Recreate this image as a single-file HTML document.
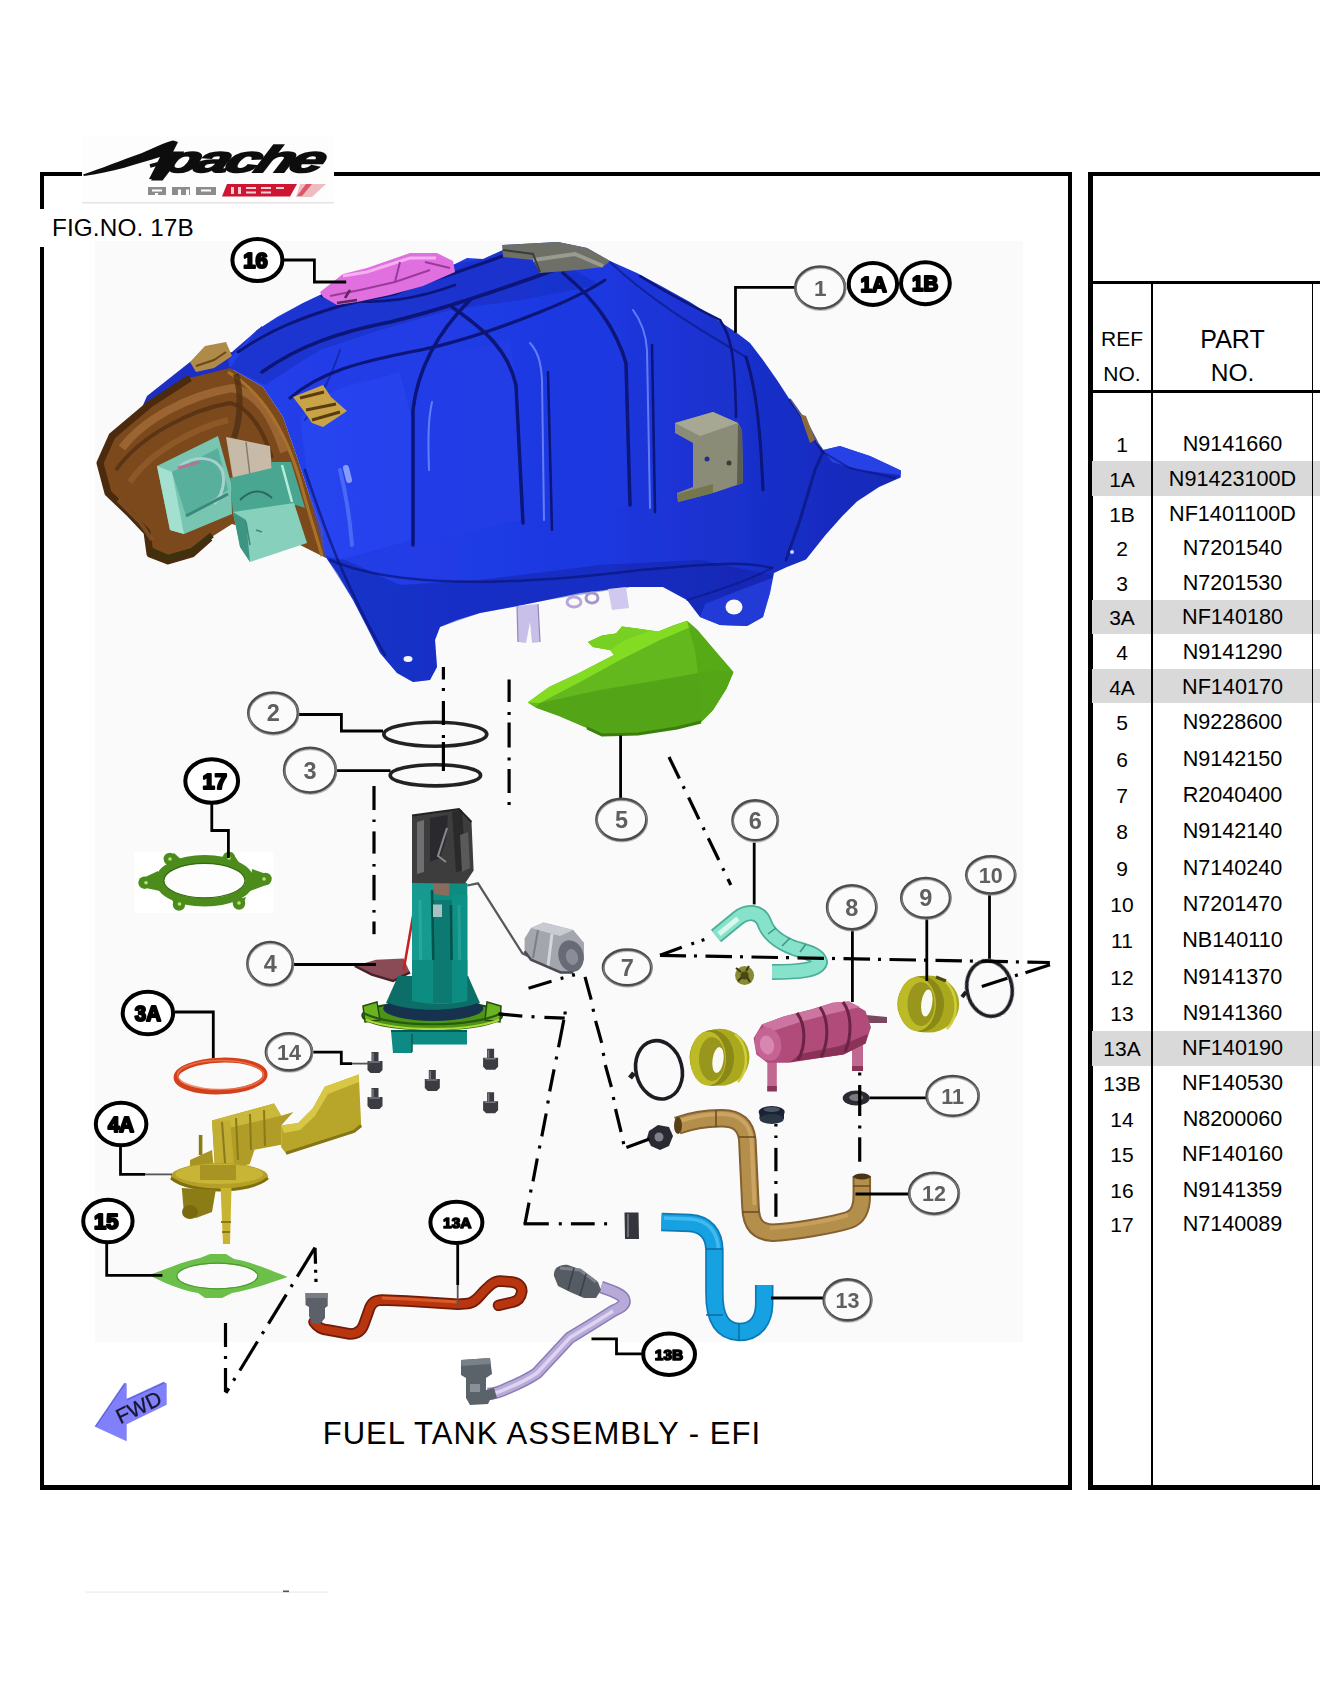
<!DOCTYPE html>
<html><head><meta charset="utf-8">
<style>
html,body{margin:0;padding:0;background:#fff;}
body{width:1320px;height:1700px;position:relative;overflow:hidden;font-family:"Liberation Sans",sans-serif;color:#000;}
.abs{position:absolute;}
.blk{position:absolute;background:#000;}
.row{position:absolute;left:1092px;width:228px;height:35px;}
.row.sh{background:#d9d9d9;}
.ref{position:absolute;left:1092px;width:60px;text-align:center;font-size:21px;line-height:24px;white-space:nowrap;}
.pn{position:absolute;left:1153px;width:159px;text-align:center;font-size:21.6px;margin-top:1px;line-height:24px;white-space:nowrap;}
svg{position:absolute;left:0;top:0;}
</style></head><body>
<!-- frames -->
<div class="blk" style="left:40px;top:172px;width:1032px;height:4px"></div>
<div class="blk" style="left:40px;top:1485px;width:1032px;height:5px"></div>
<div class="blk" style="left:40px;top:172px;width:3.5px;height:1318px"></div>
<div class="blk" style="left:1068px;top:172px;width:4px;height:1318px"></div>
<div class="abs" style="left:38px;top:209px;width:170px;height:38px;background:#fff"></div>
<div class="abs" id="fig" style="left:52px;top:215.3px;letter-spacing:0.12px;font-size:24.3px;line-height:26px;white-space:nowrap">FIG.NO. 17B</div>
<!-- table -->
<div class="blk" style="left:1088px;top:172px;width:232px;height:4px"></div>
<div class="blk" style="left:1088px;top:1485px;width:232px;height:5px"></div>
<div class="blk" style="left:1088px;top:172px;width:4.5px;height:1318px"></div>
<div class="blk" style="left:1092px;top:281px;width:228px;height:3px"></div>
<div class="blk" style="left:1092px;top:390px;width:228px;height:3px"></div>
<div id="rows">
<div class="row sh" style="top:461.0px;height:34.5px"></div>
<div class="row sh" style="top:599.5px;height:34.5px"></div>
<div class="row sh" style="top:668.7px;height:34.6px"></div>
<div class="row sh" style="top:1031.0px;height:34.5px"></div>
</div>
<div class="blk" style="left:1151px;top:284px;width:1.6px;height:1202px"></div>
<div class="blk" style="left:1311.5px;top:284px;width:1.6px;height:1202px"></div>
<div class="ref" style="top:327px;font-size:21px">REF</div>
<div class="ref" style="top:362px;font-size:21px">NO.</div>
<div class="pn" style="top:324px;font-size:25px;line-height:28px">PART</div>
<div class="pn" style="top:358px;font-size:24.5px;line-height:28px">NO.</div>
<div class="ref" style="top:433px">1</div><div class="pn" style="top:431px">N9141660</div>
<div class="ref" style="top:468px">1A</div><div class="pn" style="top:466px">N91423100D</div>
<div class="ref" style="top:503px">1B</div><div class="pn" style="top:501px">NF1401100D</div>
<div class="ref" style="top:537px">2</div><div class="pn" style="top:535px">N7201540</div>
<div class="ref" style="top:572px">3</div><div class="pn" style="top:570px">N7201530</div>
<div class="ref" style="top:606px">3A</div><div class="pn" style="top:604px">NF140180</div>
<div class="ref" style="top:641px">4</div><div class="pn" style="top:639px">N9141290</div>
<div class="ref" style="top:676px">4A</div><div class="pn" style="top:674px">NF140170</div>
<div class="ref" style="top:711px">5</div><div class="pn" style="top:709px">N9228600</div>
<div class="ref" style="top:748px">6</div><div class="pn" style="top:746px">N9142150</div>
<div class="ref" style="top:784px">7</div><div class="pn" style="top:782px">R2040400</div>
<div class="ref" style="top:820px">8</div><div class="pn" style="top:818px">N9142140</div>
<div class="ref" style="top:857px">9</div><div class="pn" style="top:855px">N7140240</div>
<div class="ref" style="top:893px">10</div><div class="pn" style="top:891px">N7201470</div>
<div class="ref" style="top:929px">11</div><div class="pn" style="top:927px">NB140110</div>
<div class="ref" style="top:966px">12</div><div class="pn" style="top:964px">N9141370</div>
<div class="ref" style="top:1002px">13</div><div class="pn" style="top:1000px">N9141360</div>
<div class="ref" style="top:1037px">13A</div><div class="pn" style="top:1035px">NF140190</div>
<div class="ref" style="top:1072px">13B</div><div class="pn" style="top:1070px">NF140530</div>
<div class="ref" style="top:1108px">14</div><div class="pn" style="top:1106px">N8200060</div>
<div class="ref" style="top:1143px">15</div><div class="pn" style="top:1141px">NF140160</div>
<div class="ref" style="top:1179px">16</div><div class="pn" style="top:1177px">N9141359</div>
<div class="ref" style="top:1213px">17</div><div class="pn" style="top:1211px">N7140089</div>

<div class="abs" id="title" style="left:322.7px;top:1415.9px;font-size:31px;line-height:36px;letter-spacing:1.04px;white-space:nowrap">FUEL TANK ASSEMBLY - EFI</div>
<svg id="dg" width="1320" height="1700" viewBox="0 0 1320 1700">
<defs>
<filter id="b1" x="-5%" y="-5%" width="110%" height="110%"><feGaussianBlur stdDeviation="0.7"/></filter>
<filter id="b2" x="-5%" y="-5%" width="110%" height="110%"><feGaussianBlur stdDeviation="1.1"/></filter>
<filter id="b3" x="-5%" y="-5%" width="110%" height="110%"><feGaussianBlur stdDeviation="2"/></filter>
<filter id="b5" x="-10%" y="-10%" width="120%" height="120%"><feGaussianBlur stdDeviation="4"/></filter>
</defs>
<g font-family="Liberation Sans, sans-serif">
<!-- 00_bg.svg -->
<rect x="95" y="241" width="928" height="1101" fill="#fafafa"/>

<!-- 10_tank.svg -->
<linearGradient id="tg" gradientUnits="userSpaceOnUse" x1="230" y1="0" x2="900" y2="0"><stop offset="0" stop-color="#2340ea"/><stop offset=".55" stop-color="#1e38e0"/><stop offset=".75" stop-color="#1a30cc"/><stop offset="1" stop-color="#1629b8"/></linearGradient>
<g filter="url(#b1)">
<!-- blue rim over brown opening -->
<path d="M140,412 L147,396 L190,362 L232,352 L262,326 L262,345 L230,372 L190,380 L152,406 Z" fill="#1a2fc4"/>
<!-- tan bracket top-left -->
<path d="M190,362 L205,346 L226,342 L232,356 L214,368 L196,372 Z" fill="#b08a4a"/>
<path d="M196,366 L214,360 L226,352" stroke="#6a4a1a" stroke-width="2" fill="none"/>
<!-- brown inner -->
<path d="M230,368 L190,378 L150,404 L112,436 L100,463 L108,493 L130,514 L147,532 L150,554 L168,561 L192,554 L210,538 L232,524 L300,545 L326,558 L322,530 L310,497 L297,457 L283,417 L263,387 Z" fill="#7c4a1e"/>
<path d="M190,378 L150,404 L112,436 L100,463 L108,493 L130,514 L147,532 L150,554 L168,561 L192,554 L210,538" fill="none" stroke="#4c2c0e" stroke-width="7" stroke-linejoin="round"/>
<path d="M150,550 L168,558 L192,551 L212,535" fill="none" stroke="#3e300a" stroke-width="6"/>
<path d="M122,448 C145,418 188,396 232,388 C258,392 274,420 284,452" fill="none" stroke="#a06a34" stroke-width="8" opacity=".85"/>
<path d="M116,470 C140,436 190,410 230,403 C250,407 264,432 272,458" fill="none" stroke="#5c3412" stroke-width="4"/>
<path d="M130,482 C150,452 195,428 228,420" fill="none" stroke="#94602c" stroke-width="6" opacity=".7"/>
<path d="M228,372 C262,392 285,430 300,480 C308,510 316,535 322,556" fill="none" stroke="#a8722c" stroke-width="3"/>
<path d="M236,374 C242,396 240,420 234,438" fill="none" stroke="#50300f" stroke-width="6" opacity=".8"/>
<path d="M118,500 L140,522 L152,540" fill="none" stroke="#8c5a28" stroke-width="4" opacity=".7"/>
<!-- beige block -->
<path d="M226,437 L270,446 L272,470 L247,477 L233,479 Z" fill="#c8baa8"/>
<path d="M246,442 L250,476" stroke="#8a7a68" stroke-width="1.5"/>
<!-- teal interior -->
<path d="M271,462 L291,462 L305,508 L296,505 L233,513 L230,478 L272,468 Z" fill="#4aa690"/>
<path d="M157,466 L218,436 L231,483 L232,514 L184,534 L170,530 Z" fill="#78c6b2"/>
<path d="M157,466 L170,530 L184,534 L172,472 Z" fill="#a4e0d0"/>
<path d="M172,472 L218,448 L228,490 L186,516 Z" fill="#58b09c"/>
<path d="M180,466 C195,455 215,456 222,470 C226,482 222,496 214,504" fill="none" stroke="#a8d0d0" stroke-width="3"/>
<path d="M178,468 L200,462" stroke="#b07890" stroke-width="3"/>
<path d="M186,516 L228,494" stroke="#3a8a78" stroke-width="3"/>
<path d="M233,512 L294,503 L307,543 L250,562 L240,547 Z" fill="#86d0bc"/>
<path d="M233,512 L240,547 L250,562 L246,520 Z" fill="#3e9480"/>
<path d="M240,500 C250,490 262,488 272,498" fill="none" stroke="#2a6a5c" stroke-width="2"/>
<path d="M282,465 L292,502" stroke="#b4ecdc" stroke-width="2.5"/>
<path d="M246,522 L250,545 M256,530 l6,2" stroke="#3a8a78" stroke-width="1.5"/>
<!-- main blue body -->
<path id="tankbody" d="M230,368 L228,360 L257,330 L277,317 L303,303 L322,294 L345,300 L400,288 L455,264 L467,258 L483,259 L503,250 L503,245 L558,242 L587,248 L610,261 L637,273 L663,287 L690,302 L713,317 L737,333 L750,343 L763,360 L777,380 L790,400 L800,415 L807,424 L817,443 L823,450 L840,446 L870,456 L901,470.5 L900.6,477.5 L879,487 L857,501.5 L842.4,516 L825.5,535 L806,559.5 L787,567 L774,573 L770,593 L763,617 L747,626 L720,625 L700,617 L687,600 L663,587 L630,587 L580,593 L547,600 L513,607 L480,613 L457,620 L440,627 L435,640 L437,667 L430,680 L413,682 L397,673 L380,653 L367,627 L353,600 L337,573 L325,556 L322,530 L310,497 L297,457 L283,417 L263,387 Z" fill="url(#tg)"/>
<!-- shading regions -->
<path d="M325,556 L353,600 L380,653 L397,673 L413,682 L430,680 L437,667 L435,640 L440,627 L480,613 L547,600 L630,587 L663,587 L687,600 L700,617 L720,625 L747,626 L763,617 L772,575 L700,560 L600,565 L480,580 L400,585 L345,560 Z" fill="#0f1f98" opacity=".4"/>
<path d="M303,303 L322,294 L345,300 L400,288 L455,264 L483,259 L503,250 L560,262 L600,285 L520,300 L450,310 L380,330 L320,350 L265,385 L230,368 L257,330 Z" fill="#1226a6" opacity=".35"/>
<path d="M300,420 C310,400 340,385 372,380 L400,372 L412,420 L412,540 L340,560 L325,556 L310,497 Z" fill="#2a48f4" opacity=".55"/>
<path d="M420,360 L510,340 L520,400 L522,520 L418,545 L412,430 Z" fill="#2240ea" opacity=".5"/>
<path d="M535,340 L620,325 L628,370 L630,505 L545,525 L540,370 Z" fill="#1e3ae0" opacity=".5"/>
<path d="M823,450 L840,446 L870,456 L901,470.5 L900.6,475 L860,470 L832,462 Z" fill="#2c48f0" opacity=".8"/>
<path d="M700,617 L720,625 L747,626 L763,617 L770,593 L772,578 L740,590 L705,604 Z" fill="#2a46ec" opacity=".6"/>
<!-- top ridge lines -->
<g fill="none" stroke="#0a1678" stroke-linecap="round">
<path d="M238,352 C270,330 300,318 340,306 C400,292 450,275 503,256" stroke-width="3"/>
<path d="M262,372 C300,345 340,332 390,322 C440,310 500,290 560,268" stroke-width="3.5"/>
<path d="M290,398 C320,372 360,362 410,352 C450,345 500,328 540,312 C570,300 590,290 605,280" stroke-width="3"/>
<path d="M345,300 C380,305 420,298 455,285" stroke-width="2.5"/>
<path d="M322,296 L346,304 L395,294 L452,270" stroke-width="2.5"/>
<!-- ribs -->
<path d="M470,300 C440,330 418,365 413,410 L413,545" stroke-width="3.5"/>
<path d="M452,307 C485,330 508,350 516,385 L523,523" stroke-width="3.5"/>
<path d="M548,372 L552,530" stroke-width="2.5"/>
<path d="M563,273 C590,295 615,325 626,363 L630,505" stroke-width="3.5"/>
<path d="M652,345 L655,512" stroke-width="2.5"/>
<path d="M720,320 C730,335 735,350 736,417" stroke-width="2.5"/>
<path d="M746,357 C755,385 760,420 763,490" stroke-width="3"/>
<path d="M640,276 C670,295 700,310 720,320" stroke-width="2.5"/>
<path d="M610,262 C650,300 700,330 746,357" stroke-width="2" opacity=".6"/>
<path d="M330,560 C400,590 520,585 640,570 C700,565 740,560 772,568" stroke-width="2.5" opacity=".7"/>
<path d="M305,470 C315,500 325,530 340,565 C355,600 370,630 385,655" stroke-width="2.5" opacity=".7"/>
<path d="M790,400 L807,424 L817,443 L823,452 L815,470 L800,520 L786,560" stroke-width="3" opacity=".7"/>
<path d="M823,452 L850,468 L895,478" stroke-width="2" opacity=".6"/>
<path d="M687,600 C720,590 750,580 772,568" stroke-width="2" opacity=".5"/>
<path d="M340,350 C330,380 320,400 305,420" stroke-width="2" opacity=".5"/>
</g>
<!-- highlights -->
<g fill="none" stroke="#7a94ff" stroke-linecap="round" opacity=".75">
<path d="M530,343 C538,352 541,362 542,380 L544,520" stroke-width="2"/>
<path d="M633,310 C642,322 646,335 647,350 L650,508" stroke-width="2"/>
<path d="M432,402 C428,420 428,440 429,470" stroke-width="2"/>
<path d="M340,470 C345,490 350,520 352,545" stroke-width="4" opacity=".6"/>
<path d="M346,468 L349,480" stroke-width="6" stroke="#a8b8ff"/>
</g>
<!-- tan hinge on front -->
<path d="M293,397 L323,385 L331,397 L347,411 L323,427 L312,423 L303,410 Z" fill="#c8a446"/>
<path d="M300,398 L324,392 M306,410 L336,404 M312,420 L340,412" stroke="#5a3a10" stroke-width="3" fill="none"/>
<!-- grey bracket on top -->
<path d="M502,245 L558,242 L587,248 L610,261 L603,267 L577,270 L540,273 L533,260 L503,257 Z" fill="#6e7068"/>
<path d="M533,260 L575,254 L603,266" stroke="#9a9a8e" stroke-width="4" fill="none"/>
<path d="M503,250 L533,254 L540,272" stroke="#3a3c3a" stroke-width="2" fill="none"/>
<!-- grey bracket on side -->
<path d="M675,423 L713,412 L738,423 L742,430 L743,483 L713,493 L678,502 L677,493 L693,487 L693,443 L675,433 Z" fill="#8a8c78"/>
<path d="M675,423 L713,412 L738,423 L700,436 Z" fill="#a6a894"/>
<path d="M677,494 L713,484 L713,493 L678,502 Z" fill="#74764e"/>
<path d="M738,424 L742,430 L743,483 L737,485 Z" fill="#5c5e50"/>
<circle cx="707" cy="459" r="2.5" fill="#2a2c8a"/><circle cx="729" cy="463" r="2.5" fill="#3a3a3a"/>
<!-- small tan on right edge -->
<path d="M800,414 L806,416 L815,440 L810,443 Z" fill="#8a6a3a"/>
<!-- pink cap -->
<path d="M320,292 L343,274 L367,268 L410,253 L437,253 L453,261 L455,272 L423,286 L390,295 L357,302 L337,305 L323,297 Z" fill="#e070e0"/>
<path d="M343,276 L367,272 L410,258 L436,258" stroke="#f4b0f0" stroke-width="3" fill="none"/>
<path d="M330,296 L360,290 L395,282 L430,270 M395,282 L400,262 M425,262 L450,268" stroke="#9a3a9a" stroke-width="2" fill="none"/>
<path d="M337,303 L357,300 M345,298 L350,290" stroke="#5a2a5a" stroke-width="2.5" fill="none"/>
<!-- holes -->
<ellipse cx="408" cy="659" rx="4.5" ry="3" fill="#f4f4ff"/>
<ellipse cx="734" cy="607" rx="8.5" ry="7.5" fill="#fafafa"/>
<circle cx="792" cy="552" r="2" fill="#c8d0ff"/>
<!-- lavender pins -->
<path d="M517,606 L538,604 L540,642 L532,643 L530,622 L526,643 L518,642 Z" fill="#c8c0e8"/>
<path d="M608,589 L626,587 L629,608 L612,610 Z" fill="#d0c8ee"/>
<ellipse cx="574" cy="602" rx="7" ry="5" fill="none" stroke="#b8a8d8" stroke-width="3"/>
<ellipse cx="592" cy="598" rx="6" ry="5" fill="none" stroke="#a898c8" stroke-width="3"/>
<path d="M517,606 L518,642 M538,604 L540,642" stroke="#9088b8" stroke-width="1.2"/>
</g>

<!-- 20_cover.svg -->
<g filter="url(#b1)">
<path d="M527.6,702.4 L549,687 L579,673 L602,661 L614,655 L610,650 L593,647 L588,642 L602,635.5 L616,633.5 L622,626.6 L638,628.6 L658,631.5 L673,625.6 L687,620.7 L697,629.5 L717,653 L733.4,672 L726.5,688.6 L713,710 L701,722 L677,728 L638,734 L602,735 L587,728 L559,716 L535.5,707.4 Z" fill="#62b81a"/>
<path d="M527.6,702.4 L549,687 L579,673 L614,655 L610,650 L593,647 L588,642 L602,635.5 L616,633.5 L622,626.6 L658,631.5 L687,620.7 L693,626 L660,640 L620,660 L580,682 L540,703 Z" fill="#84dc24"/>
<path d="M540,703 L600,690 L660,680 L715,670 L733.4,672 L726.5,688.6 L713,710 L701,722 L677,728 L638,734 L602,735 L587,728 L559,716 L535.5,707.4 Z" fill="#52a416"/>
<path d="M687,620.7 L697,629.5 L733.4,672 L726.5,688.6 L713,710 L701,722 L700,690 L695,650 Z" fill="#55a616" opacity=".8"/>
<path d="M588,642 L602,635.5 L616,633.5 L622,626.6 L650,631 L625,640 L610,650 L593,647 Z" fill="#78d020"/>
<path d="M587,728 L602,735 L638,734 L677,728 L701,722" fill="none" stroke="#3a7e0c" stroke-width="3"/>
</g>

<!-- 30_pump.svg -->
<g filter="url(#b1)">
<!-- O-rings -->
<ellipse cx="435.3" cy="734.2" rx="51.5" ry="12" fill="none" stroke="#222" stroke-width="3.6"/>
<ellipse cx="435.4" cy="775.3" rx="45.2" ry="10.6" fill="none" stroke="#222" stroke-width="3.6"/>
<!-- plate 4 and red line -->
<path d="M354.8,966 L376,959.7 L403.6,958.6 L410,972.4 L393,981 L371.8,974.6 Z" fill="#8a4c56"/>
<path d="M354.8,966 L371.8,974.6 L393,981 L410,972.4" fill="none" stroke="#4a2028" stroke-width="2.5"/>
<path d="M413.2,915 L403.6,970.3" stroke="#c42020" stroke-width="2.5" fill="none"/>
<!-- base cone -->
<path d="M398,976 L386,1003 L480,1003 L468,976 Z" fill="#0a6e68"/>
<!-- teal body -->
<path d="M412,883 L467.3,883 L467.3,1000 L412,1000 Z" fill="#0c8c82"/>
<path d="M412,883 L433,883 L433,1000 L412,1000 Z" fill="#129a90"/>
<path d="M433,900 L452,900 L452,1000 L433,1000 Z" fill="#087a72"/>
<path d="M452,895 L467.3,895 L467.3,1000 L452,1000 Z" fill="#0e9086"/>
<path d="M432,890 L434,1000 M451,905 L452,1000" stroke="#04524c" stroke-width="2.5" fill="none"/>
<path d="M420,900 L421,990" stroke="#38b0a6" stroke-width="3" opacity=".6"/>
<path d="M459,905 L460,990" stroke="#30a8a0" stroke-width="3" opacity=".6"/>
<rect x="433" y="904.5" width="9" height="12.5" fill="#a8c0c0"/>
<path d="M431,872 L450,872 L449,896 L434,894 Z" fill="#8a6c5c"/>
<!-- dark top block -->
<path d="M412,815.5 L459,809 L471.5,822 L473.6,870.6 L465,883.5 L412,883 Z" fill="#3c3c3e"/>
<path d="M417,822 L424,820 L424,872 L417,874 Z" fill="#6e6e70"/>
<path d="M452,812 L462,810 L466,870 L456,872 Z" fill="#2a2a2c"/>
<path d="M430,818 L448,815 L446,840 L440,858 L430,862 Z" fill="#2c2c2e"/>
<path d="M447,828 L438,856 L446,862" stroke="#8a8a8c" stroke-width="2" fill="none"/>
<path d="M460,835 L468,832 L470,868 L462,872 Z" fill="#5a5a5c"/>
<path d="M412,815.5 L459,809 L471.5,822" stroke="#222" stroke-width="2" fill="none"/>
<!-- green flange -->
<ellipse cx="432.3" cy="1015.5" rx="70" ry="14" fill="#4c9416" stroke="#244c0c" stroke-width="2"/>
<path d="M363,1006 L377,1002 L380,1020 L365,1022 Z M487,1002 L501,1006 L500,1022 L485,1020 Z" fill="#6ab422" stroke="#244c0c" stroke-width="1.5"/>
<path d="M366,1020 C400,1032 466,1032 499,1020" fill="none" stroke="#a8dc34" stroke-width="2"/>
<path d="M363,1013 C395,1028 470,1028 502,1013" fill="none" stroke="#2c5a10" stroke-width="2"/>
<!-- navy disc -->
<ellipse cx="433.3" cy="1008.5" rx="50" ry="12.5" fill="#143250"/>
<path d="M398,976 L388,1003 C410,1012 455,1012 478,1003 L468,976 Z" fill="#0a6e68"/>
<path d="M412,960 L467.3,960 L467.3,1001 C450,1005 430,1005 412,1001 Z" fill="#0c8c82"/>
<path d="M433,960 L452,960 L452,1003 L433,1003 Z" fill="#087a72"/>
<!-- below flange -->
<path d="M391,1031 L467,1031 L467,1044.6 L412,1044.6 L412,1053 L393,1053 Z" fill="#0c8a84"/>
<path d="M391,1031 L467,1031" stroke="#065a56" stroke-width="2"/>
<path d="M412,1034 L412,1052" stroke="#065a56" stroke-width="1.5"/>
<!-- float arm -->
<path d="M467.3,885.5 L478,883.3 L522.4,953.3 L531,957.6" fill="none" stroke="#58585c" stroke-width="2.2"/>
<!-- float -->
<path d="M524.6,938.5 L531,928 L543.6,922.6 L573.3,930 L584,942.7 L584,959.7 L573.3,972.4 L560.6,972.4 L531,959.7 L524.6,951.2 Z" fill="#a4a6ae"/>
<path d="M531,928 L543.6,922.6 L573.3,930 L560,936 Z" fill="#c8ccd2"/>
<ellipse cx="571" cy="956" rx="12.5" ry="16" transform="rotate(-15 571 956)" fill="#686a74"/>
<ellipse cx="572" cy="957" rx="6" ry="8" transform="rotate(-15 572 957)" fill="#8a8c96"/>
<path d="M552,934 L548,966" stroke="#e0e4e8" stroke-width="3" opacity=".8"/>
<path d="M538,930 L533,958" stroke="#7c7e88" stroke-width="2"/>
<path d="M524.6,951.2 L531,959.7 L560.6,972.4 L573.3,972.4" stroke="#4a4c54" stroke-width="2.5" fill="none"/>
<!-- bolts -->
<g><path d="M371.5,1052 h7 v9 h4 v9 l-3,3 h-9 l-3,-3 v-9 h4 Z" fill="#3a3a42"/><path d="M373,1053 v8 M369,1062 h11" stroke="#7a7a84" stroke-width="1.5"/></g><g transform="translate(0,36)"><path d="M371.5,1052 h7 v9 h4 v9 l-3,3 h-9 l-3,-3 v-9 h4 Z" fill="#3a3a42"/><path d="M373,1053 v8 M369,1062 h11" stroke="#7a7a84" stroke-width="1.5"/></g><g transform="translate(57.3,18)"><path d="M371.5,1052 h7 v9 h4 v9 l-3,3 h-9 l-3,-3 v-9 h4 Z" fill="#3a3a42"/><path d="M373,1053 v8 M369,1062 h11" stroke="#7a7a84" stroke-width="1.5"/></g><g transform="translate(115.6,-3.2)"><path d="M371.5,1052 h7 v9 h4 v9 l-3,3 h-9 l-3,-3 v-9 h4 Z" fill="#3a3a42"/><path d="M373,1053 v8 M369,1062 h11" stroke="#7a7a84" stroke-width="1.5"/></g><g transform="translate(115.6,40.3)"><path d="M371.5,1052 h7 v9 h4 v9 l-3,3 h-9 l-3,-3 v-9 h4 Z" fill="#3a3a42"/><path d="M373,1053 v8 M369,1062 h11" stroke="#7a7a84" stroke-width="1.5"/></g>
</g>

<!-- 40_left.svg -->
<rect x="134.5" y="851.6" width="138.7" height="61.4" fill="#fff"/>
<g filter="url(#b1)">
<!-- gasket 17 -->
<g fill="#4c8c1a">
<circle cx="169.8" cy="859" r="6.2"/><circle cx="228.9" cy="858" r="6.2"/><circle cx="265.5" cy="879" r="6.2"/><circle cx="239" cy="903.5" r="6.2"/><circle cx="179" cy="904.5" r="6.2"/><circle cx="144.5" cy="882.7" r="6.2"/>
<path d="M158,871 L141,879 L141,887 L160,891 Z M252,869 L269,875 L269,884 L250,891 Z M164,862 L174,853 L184,862 Z M222,861 L232,852 L240,864 Z M172,899 L176,910 L186,903 Z M232,902 L242,909 L246,897 Z"/>
</g>
<ellipse cx="204.7" cy="880.8" rx="45" ry="21.5" fill="#fdfdfd" stroke="#4c8c1a" stroke-width="8.5"/>
<ellipse cx="204.4" cy="880.6" rx="40.6" ry="17.2" fill="none" stroke="#356a10" stroke-width="1.2"/>
<g fill="#b8e080"><circle cx="170" cy="859" r="1.8"/><circle cx="229" cy="858" r="1.8"/><circle cx="264" cy="879" r="1.8"/><circle cx="239" cy="903" r="1.8"/><circle cx="179.5" cy="904" r="1.8"/><circle cx="146" cy="882.7" r="1.8"/></g>
<!-- 3A ring -->
<ellipse cx="220.6" cy="1076" rx="44.5" ry="15.8" fill="none" stroke="#d4401c" stroke-width="5" transform="rotate(-2 220.6 1076)"/>
<ellipse cx="220.6" cy="1075" rx="43" ry="14.5" fill="none" stroke="#ec7a50" stroke-width="1.5" opacity=".8"/>
<!-- 4A pump -->
<path d="M281.2,1125.5 L298.2,1123 L312.7,1108.5 L324.8,1086.7 L358.8,1074.5 L361.2,1125.5 L354,1131.5 L286,1153.3 L281.2,1147.3 Z" fill="#b8a62a"/>
<path d="M324.8,1086.7 L358.8,1074.5 L359,1082 L328,1094 L315,1116 L300,1130 L284,1133 L281.2,1125.5 L298.2,1123 L312.7,1108.5 Z" fill="#d8c644"/>
<path d="M286,1153.3 L354,1131.5 L361.2,1125.5" fill="none" stroke="#857416" stroke-width="3"/>
<path d="M212,1120.6 L274,1103.6 L281.2,1115.8 L293.3,1112 L281.2,1125.5 L281.2,1144.8 L254.5,1149.7 L249.7,1164.2 L215,1172 Z" fill="#b09c26"/>
<path d="M212,1120.6 L274,1103.6 L281.2,1115.8 L220,1130 Z" fill="#cab83a"/>
<path d="M236,1118 L238,1160 M250,1114 L251,1150 M264,1110 L265,1146" stroke="#8a7a1a" stroke-width="2" fill="none"/>
<path d="M212,1120.6 L230.3,1120.6 L235,1176 L215.8,1176 Z" fill="#c2ae30"/>
<path d="M222,1122 L226,1176" stroke="#8a7a1a" stroke-width="2"/>
<rect x="198.8" y="1135" width="3.6" height="20" fill="#8a7a1a"/>
<path d="M190,1160 L212,1150 L214,1170 L190,1172 Z" fill="#a89422"/>
<ellipse cx="219.4" cy="1176.4" rx="48.5" ry="13.3" fill="#b4a028"/>
<ellipse cx="219.4" cy="1174" rx="44" ry="10" fill="#c8b436"/>
<path d="M171,1178 C190,1194 250,1194 268,1178" fill="none" stroke="#80700f" stroke-width="3"/>
<path d="M200,1165 L236,1165 L236,1180 L200,1180 Z" fill="#a89422"/>
<path d="M181.8,1188 L215.8,1190 L212,1212 L196,1218 L184,1214 Z" fill="#8c7c18"/>
<ellipse cx="190" cy="1212" rx="8" ry="7" fill="#7a6a10"/>
<path d="M220.6,1188 L231.5,1188 L230,1244 L223,1244 Z" fill="#c8b430"/>
<path d="M221,1222 h10 M222,1232 h8" stroke="#8a7a1a" stroke-width="2"/>
<!-- 15 gasket -->
<path d="M149,1275 C165,1270 180,1262 200,1258 L210,1254 L226,1254 L234,1259 C252,1262 270,1270 287.7,1277 C270,1283 250,1290 232,1293 L222,1298 L205,1298 L198,1293 C180,1290 162,1282 149,1275 Z" fill="#6cc04a"/>
<ellipse cx="217.3" cy="1276" rx="40" ry="12.2" fill="#fafafa"/>
<ellipse cx="217.3" cy="1276" rx="40.5" ry="12.8" fill="none" stroke="#4c9a30" stroke-width="1.2"/>
</g>

<!-- 50_right.svg -->
<g filter="url(#b1)">
<!-- hose 6 mint -->
<path d="M716,936 L738,918 C748,910 760,912 764,922 C768,934 778,942 794,948 C806,952 818,954 820,962 C818,970 800,972 772,972" fill="none" stroke="#4cae98" stroke-width="16" stroke-linejoin="round"/>
<path d="M716,936 L738,918 C748,910 760,912 764,922 C768,934 778,942 794,948 C806,952 818,954 820,962 C818,970 800,972 772,972" fill="none" stroke="#86e2ca" stroke-width="12.5" stroke-linejoin="round"/>
<path d="M719,934 L738,918.5" stroke="#d8f8ee" stroke-width="5"/>
<path d="M768,934 L776,928 M782,946 L790,938 M800,952 L806,944" stroke="#3a9480" stroke-width="1.5"/>
<!-- clip 7 -->
<circle cx="744.6" cy="975.5" r="9.5" fill="#8a8a34"/>
<circle cx="744.6" cy="975.5" r="4" fill="#4a4a18"/>
<path d="M736,968 l5,4 m8,-6 l-3,5 m-8,10 l4,-4 m8,5 l-3,-5" stroke="#3a3a10" stroke-width="2"/>
<!-- ring 10 left (black) -->
<ellipse cx="659" cy="1069.8" rx="23" ry="29.5" fill="none" stroke="#1c1c22" stroke-width="3.6" transform="rotate(-14 659 1069.8)"/>
<path d="M634,1073 l-4,5" stroke="#1c1c22" stroke-width="5"/>
<!-- ring 9 left (yellow) -->
<ellipse cx="719.5" cy="1057.3" rx="30" ry="28.5" fill="#aaa81c"/>
<ellipse cx="712" cy="1058" rx="22" ry="28" fill="#8a8812"/>
<ellipse cx="708" cy="1058.5" rx="18" ry="27" fill="#bcba28"/>
<ellipse cx="712" cy="1059" rx="13" ry="22" fill="#98961a"/>
<ellipse cx="718" cy="1060" rx="5.5" ry="13" fill="#fafaf4" transform="rotate(8 718 1060)"/>
<path d="M735,1034 C748,1045 750,1068 738,1082" fill="none" stroke="#d0ce40" stroke-width="2.5"/>
<!-- canister 8 -->
<rect x="767.3" y="1058" width="9.5" height="33" fill="#c06890"/>
<rect x="767.3" y="1086" width="9.5" height="5.5" fill="#8a3458"/>
<rect x="852" y="1045" width="11" height="26" fill="#c06890"/>
<rect x="852" y="1066" width="11" height="5" fill="#8a3458"/>
<path d="M866,1015 L887,1017 L887,1023 L868,1023 Z" fill="#7a4a60"/>
<path d="M753.6,1038.2 L761.8,1024.5 L783.6,1016.4 L811,1009.5 L832.7,1002.7 L849,1001.4 L865.5,1011 L871,1027.3 L865.5,1043.6 L843.6,1054.5 L816.4,1058.6 L789,1062.7 L767.3,1062.7 L756.4,1054.5 Z" fill="#b04c7a"/>
<path d="M761.8,1024.5 L783.6,1016.4 L811,1009.5 L832.7,1002.7 L849,1001.4 L860,1007 L830,1014 L800,1022 L770,1032 Z" fill="#cc74a0"/>
<path d="M790,1062 L843.6,1054.5 L865.5,1043.6 L868,1034 L840,1046 L800,1054 Z" fill="#8a3058"/>
<ellipse cx="768" cy="1044" rx="13" ry="17" fill="#c46494" transform="rotate(-14 768 1044)"/>
<ellipse cx="767" cy="1045" rx="7" ry="9.5" fill="#d888b0" transform="rotate(-14 767 1045)"/>
<g fill="none" stroke="#6a2444" stroke-width="3"><path d="M797,1013 C806,1025 806,1046 798,1060"/><path d="M820,1007 C829,1020 829,1042 821,1057"/><path d="M843,1002 C852,1014 852,1036 845,1052"/></g>
<!-- ring 9 right -->
<ellipse cx="928.2" cy="1004" rx="31" ry="28.6" fill="#aaa81c"/>
<ellipse cx="921" cy="1004" rx="23" ry="28" fill="#8a8812"/>
<ellipse cx="917" cy="1004" rx="19" ry="27" fill="#bcba28"/>
<ellipse cx="921" cy="1004" rx="13.5" ry="22" fill="#98961a"/>
<ellipse cx="926.8" cy="1003" rx="5.5" ry="13.6" fill="#fafaf4" transform="rotate(8 926.8 1003)"/>
<path d="M944,980 C958,992 960,1015 947,1029" fill="none" stroke="#d0ce40" stroke-width="2.5"/>
<path d="M936,977 l10,4" stroke="#4a4a10" stroke-width="3"/>
<!-- ring 10 right -->
<ellipse cx="989.5" cy="988.5" rx="22.5" ry="28" fill="none" stroke="#1c1c22" stroke-width="3.6" transform="rotate(-12 989.5 988.5)"/>
<path d="M966,992 l-4,5" stroke="#1c1c22" stroke-width="4"/>
<!-- part 11 -->
<ellipse cx="856.2" cy="1098" rx="13.5" ry="7.5" fill="#2c2c32"/>
<ellipse cx="856.2" cy="1097.5" rx="7" ry="3.5" fill="#7a7a80"/>
<!-- grommet -->
<ellipse cx="771.7" cy="1112" rx="13" ry="6" fill="#1a2434"/>
<rect x="759.5" y="1110" width="24.5" height="9" fill="#1a2434"/>
<ellipse cx="771.7" cy="1119" rx="12" ry="5" fill="#2a3444"/>
<ellipse cx="771.7" cy="1109.5" rx="8" ry="2.5" fill="#4a5464"/>
<!-- nut -->
<path d="M649,1131 l9,-6 l11,2 l4,9 l-4,10 l-9,4 l-9,-4 l-4,-8 Z" fill="#2a2a30"/>
<circle cx="659" cy="1137" r="4.5" fill="#80808a"/>
<!-- hose 12 tan -->
<path id="h12" d="M677.3,1125.6 C690,1121 705,1118 721.8,1118.2 C738,1118 746,1126 747.3,1140 L750.5,1207 C751,1225 758,1232 772.7,1232.7 C790,1232 830,1226 849,1220 C858,1217 862,1208 861.8,1194.5 L861.8,1176" fill="none" stroke="#846030" stroke-width="18.5"/>
<path d="M677.3,1125.6 C690,1121 705,1118 721.8,1118.2 C738,1118 746,1126 747.3,1140 L750.5,1207 C751,1225 758,1232 772.7,1232.7 C790,1232 830,1226 849,1220 C858,1217 862,1208 861.8,1194.5 L861.8,1176" fill="none" stroke="#b48e4c" stroke-width="14.5"/>
<path d="M680,1121 C692,1117 706,1114 722,1114 C740,1114 750,1124 751.5,1140 L754.5,1205" fill="none" stroke="#d0aa66" stroke-width="4" opacity=".8"/>
<path d="M770,1228 C790,1227 830,1221 848,1215" fill="none" stroke="#caa45e" stroke-width="4" opacity=".8"/>
<path d="M739,1137 h17 M742,1212 h17 M716,1110 v17 M853,1186 h17" stroke="#6a4a20" stroke-width="1.5"/>
<ellipse cx="678" cy="1125.6" rx="4" ry="8.5" fill="#5a4018"/>
<ellipse cx="861.8" cy="1176.5" rx="8.5" ry="3" fill="#4a3412"/>
<!-- connector small dark -->
<path d="M624.5,1212.6 L638.5,1212.6 L639,1239 L625,1239 Z" fill="#34363c"/>
<path d="M628,1214 v23" stroke="#6a6c74" stroke-width="2"/>
<!-- hose 13 blue -->
<path d="M661.4,1222 L690,1223 C706,1224 714,1234 714.4,1250 L714.4,1292 C714,1318 722,1331 739,1332 C756,1332 764,1320 764.2,1304 L764.2,1285" fill="none" stroke="#0c7ab8" stroke-width="18.5"/>
<path d="M661.4,1222 L690,1223 C706,1224 714,1234 714.4,1250 L714.4,1292 C714,1318 722,1331 739,1332 C756,1332 764,1320 764.2,1304 L764.2,1285" fill="none" stroke="#18a2e2" stroke-width="15"/>
<path d="M664,1218 L690,1219 C708,1220 718,1232 718.4,1250" fill="none" stroke="#4cc0f2" stroke-width="3.5" opacity=".8"/>
<path d="M706,1249 h17 M706,1315 h17 M739,1323 v18" stroke="#0a6aa4" stroke-width="1.4"/>
</g>

<!-- 60_bottom.svg -->
<g filter="url(#b1)">
<!-- red hose 13A -->
<path d="M314,1322 C318,1328 322,1329.5 328,1330 L350,1334 C358,1334 362,1330 364,1324 L369,1310 C371,1303 375,1300 382,1300 L407,1301 L458,1304.2 L468,1303.5 C474,1303 478,1298 483.6,1291.5 C490,1285 494,1281 500,1281 L512,1282 C519,1283 522,1287 521.8,1291.5 C521,1297 518,1301 513,1302 L498.5,1305.3" fill="none" stroke="#6e1c08" stroke-width="11.5" stroke-linejoin="round" stroke-linecap="round"/>
<path d="M314,1322 C318,1328 322,1329.5 328,1330 L350,1334 C358,1334 362,1330 364,1324 L369,1310 C371,1303 375,1300 382,1300 L407,1301 L458,1304.2 L468,1303.5 C474,1303 478,1298 483.6,1291.5 C490,1285 494,1281 500,1281 L512,1282 C519,1283 522,1287 521.8,1291.5 C521,1297 518,1301 513,1302 L498.5,1305.3" fill="none" stroke="#b83410" stroke-width="8" stroke-linejoin="round" stroke-linecap="round"/>
<path d="M382,1298 L407,1299 L458,1302" fill="none" stroke="#e0642a" stroke-width="3" opacity=".8"/>
<!-- grey connector 13A -->
<path d="M305.5,1293 L327.7,1293 L327.7,1306 L325,1308 L325,1318 L320,1324 L312,1323 L309,1316 L309,1307 L305.5,1305 Z" fill="#5c6068"/>
<path d="M305.5,1293 h22.2 v5 h-22.2 Z" fill="#787c84"/>
<!-- lavender hose 13B -->
<path d="M487.3,1394 C495,1394 502,1391 508,1388 C520,1383 530,1378 537,1373 L570,1337.6 L594,1323 L613,1311 C622,1307 626,1304 624,1299 C622,1295 616,1292 601,1287" fill="none" stroke="#8a7cb4" stroke-width="12.5" stroke-linejoin="round"/>
<path d="M487.3,1394 C495,1394 502,1391 508,1388 C520,1383 530,1378 537,1373 L570,1337.6 L594,1323 L613,1311 C622,1307 626,1304 624,1299 C622,1295 616,1292 601,1287" fill="none" stroke="#b8aad8" stroke-width="9.5" stroke-linejoin="round"/>
<path d="M487.3,1394 C495,1394 502,1391 508,1388 C520,1383 530,1378 537,1373 L570,1337.6 L594,1323 L613,1311" fill="none" stroke="#dcd4f0" stroke-width="3.5" stroke-linejoin="round"/>
<!-- top connector 13B -->
<path d="M554,1276 C553,1268 560,1264 568,1265 L582,1270 L598,1282 L601,1290 L596,1298 L584,1298 L570,1292 L558,1286 Z" fill="#565c64"/>
<path d="M560,1268 L580,1270 L596,1282" stroke="#7c828a" stroke-width="3" fill="none"/>
<path d="M574,1268 L568,1290 M586,1274 L580,1296" stroke="#3a4048" stroke-width="1.5"/>
<!-- lower connector 13B -->
<path d="M461,1360 L490,1358 L492,1374 L486,1378 L486,1390 L492,1396 L488,1404 L470,1405 L466,1398 L466,1378 L461,1375 Z" fill="#5a626a"/>
<path d="M461,1360 L490,1358 L490.5,1364 L461.5,1366 Z" fill="#7a8088"/>
<path d="M470,1384 h10 v8 h-10 Z" fill="#8a9098"/>
<path d="M486,1390 L494,1388 L497,1398 L490,1400 Z" fill="#5a626a"/>
</g>
<!-- FWD arrow -->
<g filter="url(#b1)">
<path d="M94.5,1426.4 L124.2,1382.8 L126.7,1383.6 L126.7,1398.8 L163.6,1381.8 L166.7,1383.6 L166.7,1404.8 L126.7,1424.2 L126.7,1441.2 Z" fill="#8080fa"/>
<path d="M96,1426 L124.5,1384.5" stroke="#5a5ad0" stroke-width="1"/>
<path d="M127,1400 L164,1383" stroke="#5a5ad0" stroke-width="1"/>
<text transform="translate(120.2,1424.2) rotate(-25.6)" font-size="21" fill="#15152a" stroke="#15152a" stroke-width=".3">FWD</text>
</g>

<rect x="85.5" y="1591.5" width="243" height="1.2" fill="#ececec"/><rect x="283" y="1590.5" width="6" height="1.6" fill="#555" filter="url(#b1)"/>

<!-- 70_logo.svg -->
<rect x="82" y="137" width="252" height="66.5" fill="#fdfdfd"/>
<rect x="82" y="202" width="252" height="1.5" fill="#e4e4e4"/>
<g filter="url(#b1)">
<path d="M83,174.5 C100,169 122,160 142,153 C156,147 166,142 173,140.5 L178,142 C173,152 166,167 158,180 L149,179 C154,170 158,161 160,157 C140,163 110,173 84,176 Z" fill="#0a0a0a"/>
<path d="M150,166 L172,160" stroke="#0a0a0a" stroke-width="3.5"/>
<text transform="translate(158,172) skewX(-24) scale(1.68,1)" font-size="37" font-weight="bold" font-style="italic" fill="#0a0a0a" stroke="#0a0a0a" stroke-width="1.8" letter-spacing="-2.5">pache</text>
<!-- RTR -->
<g fill="#8c8c8c"><rect x="148" y="187" width="18" height="8"/><rect x="172" y="187" width="18" height="8"/><rect x="196" y="187" width="20" height="8"/></g>
<g fill="#fdfdfd"><rect x="152" y="189.5" width="10" height="2"/><rect x="178" y="189.5" width="3" height="6"/><rect x="186" y="189.5" width="3" height="6"/><rect x="201" y="189.5" width="10" height="2"/><rect x="155" y="193" width="3" height="3"/></g>
<path d="M227,184 L297,184 L290,196.5 L222,196.5 Z" fill="#cc1830"/>
<g fill="#f4d0d4"><rect x="231" y="187" width="3" height="7"/><rect x="238" y="187" width="3" height="7"/><rect x="246" y="187" width="10" height="2"/><rect x="246" y="191.5" width="10" height="2"/><rect x="261" y="187" width="10" height="2"/><rect x="261" y="191.5" width="10" height="2"/><rect x="276" y="187" width="8" height="2"/></g>
<path d="M300,184 L326,184 L312,197 L296,197 Z" fill="#e8a0a8" opacity=".7"/>
<path d="M306,184 L312,184 L302,196 L297,196 Z" fill="#d84050" opacity=".8"/>
</g>

<g fill="none" stroke="#000" stroke-width="2.8">
<path d="M283,260 H314.4 V282 H346.2"/>
<path d="M794.5,287.3 H735.5 V332.7"/>
<path d="M211.8,804 V830.5 H228.4 V858"/>
<path d="M299,714.5 H341.4 V731 H383"/>
<path d="M333.5,770.7 H390.5"/>
<path d="M294,964.5 H376"/>
<path d="M175,1012 H213.3 V1058"/>
<path d="M313.2,1052.2 H341.3 V1063.6 H352"/>
<path d="M120.5,1147 V1174.4 H145"/>
<path d="M620.6,735.5 V798"/>
<path d="M754.2,842.6 V904.4"/>
<path d="M852.4,929 V1002"/>
<path d="M926.8,918 V981"/>
<path d="M989.5,894.6 V958.8"/>
<path d="M869.5,1097.8 H926.8"/>
<path d="M855.5,1194 H912.6"/>
<path d="M771,1298 H824"/>
<path d="M641.8,1353.8 H616.5 V1338.8 H591.5"/>
<path d="M457.7,1244.5 V1285"/>
<path d="M106.7,1244 V1275.3 H162.4"/>
</g>
<g fill="none" stroke="#555" stroke-width="1.8" filter="url(#b1)"><path d="M352,1063.6 H369"/><path d="M145,1174.4 H172"/><path d="M457.7,1285 V1306"/></g>
<g fill="none" stroke="#000" stroke-width="3.2">
<line x1="443.4" y1="667.0" x2="443.4" y2="679.5"/>
<line x1="443.4" y1="688.0" x2="443.4" y2="691.0"/>
<line x1="443.4" y1="701.0" x2="443.4" y2="725.0"/>
<line x1="443.4" y1="735.0" x2="443.4" y2="738.0"/>
<line x1="443.4" y1="742.0" x2="443.4" y2="771.0"/>
<line x1="509.1" y1="679.5" x2="509.1" y2="702.0"/>
<line x1="509.1" y1="712.0" x2="509.1" y2="715.0"/>
<line x1="509.1" y1="722.5" x2="509.1" y2="747.5"/>
<line x1="509.1" y1="757.5" x2="509.1" y2="760.5"/>
<line x1="509.1" y1="769.0" x2="509.1" y2="793.0"/>
<line x1="509.1" y1="802.0" x2="509.1" y2="805.0"/>
<line x1="374.0" y1="786.0" x2="374.0" y2="810.0"/>
<line x1="374.0" y1="819.5" x2="374.0" y2="822.0"/>
<line x1="374.0" y1="831.4" x2="374.0" y2="853.6"/>
<line x1="374.0" y1="864.0" x2="374.0" y2="866.6"/>
<line x1="374.0" y1="874.9" x2="374.0" y2="900.3"/>
<line x1="374.0" y1="910.0" x2="374.0" y2="912.6"/>
<line x1="374.0" y1="921.5" x2="374.0" y2="934.2"/>
<line x1="669.0" y1="757.0" x2="679.4" y2="778.5"/>
<line x1="683.1" y1="786.2" x2="684.4" y2="788.8"/>
<line x1="688.6" y1="797.5" x2="699.0" y2="819.2"/>
<line x1="703.1" y1="827.5" x2="704.3" y2="830.1"/>
<line x1="708.3" y1="838.3" x2="718.8" y2="860.0"/>
<line x1="722.7" y1="868.2" x2="724.0" y2="870.8"/>
<line x1="727.9" y1="879.0" x2="730.8" y2="885.0"/>
<line x1="660.0" y1="955.3" x2="686.0" y2="955.8"/>
<line x1="694.0" y1="955.9" x2="697.0" y2="956.0"/>
<line x1="705.5" y1="956.1" x2="732.0" y2="956.6"/>
<line x1="740.0" y1="956.8" x2="743.0" y2="956.8"/>
<line x1="751.5" y1="957.0" x2="778.0" y2="957.5"/>
<line x1="786.0" y1="957.6" x2="789.0" y2="957.7"/>
<line x1="797.5" y1="957.8" x2="824.0" y2="958.3"/>
<line x1="832.0" y1="958.5" x2="835.0" y2="958.5"/>
<line x1="843.5" y1="958.7" x2="870.0" y2="959.2"/>
<line x1="878.0" y1="959.3" x2="881.0" y2="959.4"/>
<line x1="889.5" y1="959.5" x2="916.0" y2="960.0"/>
<line x1="924.0" y1="960.2" x2="927.0" y2="960.2"/>
<line x1="935.5" y1="960.4" x2="961.9" y2="960.9"/>
<line x1="969.9" y1="961.0" x2="972.9" y2="961.1"/>
<line x1="981.4" y1="961.2" x2="1007.9" y2="961.7"/>
<line x1="1015.9" y1="961.9" x2="1018.9" y2="961.9"/>
<line x1="1027.4" y1="962.1" x2="1049.9" y2="962.5"/>
<line x1="660.0" y1="955.3" x2="681.8" y2="947.3"/>
<line x1="691.3" y1="944.1" x2="694.1" y2="943.1"/>
<line x1="701.6" y1="940.5" x2="704.4" y2="939.5"/>
<line x1="1050.0" y1="964.7" x2="1025.5" y2="972.7"/>
<line x1="1017.8" y1="974.9" x2="1015.0" y2="975.7"/>
<line x1="1007.3" y1="978.2" x2="981.8" y2="986.5"/>
<line x1="498.5" y1="1013.8" x2="522.3" y2="1016.1"/>
<line x1="531.5" y1="1016.7" x2="534.5" y2="1016.9"/>
<line x1="544.4" y1="1017.3" x2="564.7" y2="1018.2"/>
<line x1="528.5" y1="988.2" x2="551.5" y2="981.2"/>
<line x1="560.6" y1="978.6" x2="563.4" y2="977.8"/>
<line x1="572.1" y1="975.4" x2="574.9" y2="974.6"/>
<line x1="565.2" y1="1011.5" x2="565.0" y2="1014.5"/>
<line x1="563.8" y1="1020.0" x2="558.5" y2="1047.3"/>
<line x1="556.7" y1="1056.5" x2="556.1" y2="1059.5"/>
<line x1="554.1" y1="1069.4" x2="549.7" y2="1091.4"/>
<line x1="548.3" y1="1100.5" x2="547.7" y2="1103.5"/>
<line x1="546.2" y1="1113.5" x2="541.8" y2="1136.4"/>
<line x1="539.9" y1="1145.5" x2="539.3" y2="1148.5"/>
<line x1="537.3" y1="1158.5" x2="533.0" y2="1181.4"/>
<line x1="531.1" y1="1189.5" x2="530.5" y2="1192.5"/>
<line x1="529.0" y1="1202.6" x2="525.0" y2="1223.8"/>
<line x1="523.6" y1="1223.8" x2="548.8" y2="1223.8"/>
<line x1="558.8" y1="1223.8" x2="561.8" y2="1223.8"/>
<line x1="570.9" y1="1223.8" x2="594.7" y2="1223.8"/>
<line x1="604.1" y1="1223.8" x2="607.1" y2="1223.8"/>
<line x1="585.0" y1="976.8" x2="591.2" y2="999.7"/>
<line x1="593.0" y1="1008.8" x2="593.6" y2="1011.8"/>
<line x1="595.6" y1="1020.9" x2="601.7" y2="1042.9"/>
<line x1="603.2" y1="1052.9" x2="603.8" y2="1055.9"/>
<line x1="605.3" y1="1065.0" x2="611.4" y2="1087.0"/>
<line x1="613.3" y1="1097.0" x2="613.9" y2="1100.0"/>
<line x1="615.5" y1="1109.0" x2="621.1" y2="1132.0"/>
<line x1="623.1" y1="1141.1" x2="623.7" y2="1144.1"/>
<line x1="626.4" y1="1147.4" x2="649.4" y2="1139.1"/>
<line x1="775.9" y1="1124.0" x2="775.9" y2="1126.5"/>
<line x1="775.9" y1="1135.5" x2="775.9" y2="1138.0"/>
<line x1="775.9" y1="1147.9" x2="775.9" y2="1171.2"/>
<line x1="775.9" y1="1181.0" x2="775.9" y2="1184.0"/>
<line x1="775.9" y1="1193.5" x2="775.9" y2="1216.8"/>
<line x1="859.7" y1="1072.5" x2="859.7" y2="1075.5"/>
<line x1="859.7" y1="1085.0" x2="859.7" y2="1116.0"/>
<line x1="859.7" y1="1125.5" x2="859.7" y2="1128.5"/>
<line x1="859.7" y1="1137.3" x2="859.7" y2="1161.7"/>
<line x1="225.5" y1="1323.0" x2="225.5" y2="1347.0"/>
<line x1="225.5" y1="1356.0" x2="225.5" y2="1359.0"/>
<line x1="225.5" y1="1368.0" x2="225.5" y2="1392.0"/>
<line x1="315.0" y1="1247.7" x2="297.2" y2="1276.7"/>
<line x1="292.5" y1="1284.4" x2="291.0" y2="1286.9"/>
<line x1="286.3" y1="1294.6" x2="268.5" y2="1323.6"/>
<line x1="263.8" y1="1331.3" x2="262.2" y2="1333.8"/>
<line x1="257.5" y1="1341.5" x2="239.8" y2="1370.5"/>
<line x1="235.1" y1="1378.2" x2="233.5" y2="1380.7"/>
<line x1="228.8" y1="1388.4" x2="226.0" y2="1393.0"/>
<line x1="315.0" y1="1247.7" x2="315.5" y2="1263.7"/>
<line x1="315.6" y1="1269.7" x2="315.7" y2="1272.7"/>
<line x1="315.9" y1="1278.7" x2="316.0" y2="1282.0"/>
</g>
<g filter="url(#b1)">
<ellipse cx="820.2" cy="287.7" rx="24.8" ry="21.0" fill="#fbfbfb" stroke="#4c4c4c" stroke-width="2.8"/>
<ellipse cx="820.8" cy="289.3" rx="24.8" ry="21.0" fill="none" stroke="#999" stroke-width="1.5" opacity=".6"/>
<text x="820.2" y="295.8" font-size="22.5" font-weight="bold" fill="#5e5e5e" text-anchor="middle">1</text>
<ellipse cx="273.2" cy="713.0" rx="24.8" ry="20.3" fill="#fbfbfb" stroke="#4c4c4c" stroke-width="2.8"/>
<ellipse cx="273.8" cy="714.6" rx="24.8" ry="20.3" fill="none" stroke="#999" stroke-width="1.5" opacity=".6"/>
<text x="273.2" y="721.4" font-size="23.5" font-weight="bold" fill="#5e5e5e" text-anchor="middle">2</text>
<ellipse cx="310.0" cy="770.2" rx="25.8" ry="22.4" fill="#fbfbfb" stroke="#4c4c4c" stroke-width="2.8"/>
<ellipse cx="310.6" cy="771.8" rx="25.8" ry="22.4" fill="none" stroke="#999" stroke-width="1.5" opacity=".6"/>
<text x="310.0" y="778.6" font-size="23.5" font-weight="bold" fill="#5e5e5e" text-anchor="middle">3</text>
<ellipse cx="270.2" cy="963.6" rx="22.7" ry="21.5" fill="#fbfbfb" stroke="#4c4c4c" stroke-width="2.8"/>
<ellipse cx="270.8" cy="965.2" rx="22.7" ry="21.5" fill="none" stroke="#999" stroke-width="1.5" opacity=".6"/>
<text x="270.2" y="972.0" font-size="23.5" font-weight="bold" fill="#5e5e5e" text-anchor="middle">4</text>
<ellipse cx="621.5" cy="819.6" rx="25.0" ry="20.6" fill="#fbfbfb" stroke="#4c4c4c" stroke-width="2.8"/>
<ellipse cx="622.1" cy="821.2" rx="25.0" ry="20.6" fill="none" stroke="#999" stroke-width="1.5" opacity=".6"/>
<text x="621.5" y="828.0" font-size="23.5" font-weight="bold" fill="#5e5e5e" text-anchor="middle">5</text>
<ellipse cx="755.2" cy="820.4" rx="22.6" ry="19.9" fill="#fbfbfb" stroke="#4c4c4c" stroke-width="2.8"/>
<ellipse cx="755.8" cy="822.0" rx="22.6" ry="19.9" fill="none" stroke="#999" stroke-width="1.5" opacity=".6"/>
<text x="755.2" y="828.8" font-size="23.5" font-weight="bold" fill="#5e5e5e" text-anchor="middle">6</text>
<ellipse cx="627.2" cy="967.5" rx="24.1" ry="17.8" fill="#fbfbfb" stroke="#4c4c4c" stroke-width="2.8"/>
<ellipse cx="627.8" cy="969.1" rx="24.1" ry="17.8" fill="none" stroke="#999" stroke-width="1.5" opacity=".6"/>
<text x="627.2" y="975.9" font-size="23.5" font-weight="bold" fill="#5e5e5e" text-anchor="middle">7</text>
<ellipse cx="851.8" cy="907.3" rx="24.6" ry="22.0" fill="#fbfbfb" stroke="#4c4c4c" stroke-width="2.8"/>
<ellipse cx="852.4" cy="908.9" rx="24.6" ry="22.0" fill="none" stroke="#999" stroke-width="1.5" opacity=".6"/>
<text x="851.8" y="915.7" font-size="23.5" font-weight="bold" fill="#5e5e5e" text-anchor="middle">8</text>
<ellipse cx="925.8" cy="898.0" rx="24.4" ry="19.9" fill="#fbfbfb" stroke="#4c4c4c" stroke-width="2.8"/>
<ellipse cx="926.4" cy="899.6" rx="24.4" ry="19.9" fill="none" stroke="#999" stroke-width="1.5" opacity=".6"/>
<text x="925.8" y="906.4" font-size="23.5" font-weight="bold" fill="#5e5e5e" text-anchor="middle">9</text>
<ellipse cx="990.8" cy="875.0" rx="24.4" ry="18.6" fill="#fbfbfb" stroke="#4c4c4c" stroke-width="2.8"/>
<ellipse cx="991.4" cy="876.6" rx="24.4" ry="18.6" fill="none" stroke="#999" stroke-width="1.5" opacity=".6"/>
<text x="990.8" y="882.7" font-size="21.5" font-weight="bold" fill="#5e5e5e" text-anchor="middle">10</text>
<ellipse cx="952.7" cy="1096.0" rx="26.0" ry="19.8" fill="#fbfbfb" stroke="#4c4c4c" stroke-width="2.8"/>
<ellipse cx="953.3" cy="1097.6" rx="26.0" ry="19.8" fill="none" stroke="#999" stroke-width="1.5" opacity=".6"/>
<text x="952.7" y="1103.7" font-size="21.5" font-weight="bold" fill="#5e5e5e" text-anchor="middle">11</text>
<ellipse cx="934.0" cy="1193.3" rx="24.8" ry="20.5" fill="#fbfbfb" stroke="#4c4c4c" stroke-width="2.8"/>
<ellipse cx="934.6" cy="1194.9" rx="24.8" ry="20.5" fill="none" stroke="#999" stroke-width="1.5" opacity=".6"/>
<text x="934.0" y="1201.0" font-size="21.5" font-weight="bold" fill="#5e5e5e" text-anchor="middle">12</text>
<ellipse cx="847.5" cy="1300.0" rx="23.7" ry="20.5" fill="#fbfbfb" stroke="#4c4c4c" stroke-width="2.8"/>
<ellipse cx="848.1" cy="1301.6" rx="23.7" ry="20.5" fill="none" stroke="#999" stroke-width="1.5" opacity=".6"/>
<text x="847.5" y="1307.7" font-size="21.5" font-weight="bold" fill="#5e5e5e" text-anchor="middle">13</text>
<ellipse cx="289.0" cy="1051.9" rx="23.0" ry="18.6" fill="#fbfbfb" stroke="#4c4c4c" stroke-width="2.8"/>
<ellipse cx="289.6" cy="1053.5" rx="23.0" ry="18.6" fill="none" stroke="#999" stroke-width="1.5" opacity=".6"/>
<text x="289.0" y="1059.6" font-size="21.5" font-weight="bold" fill="#5e5e5e" text-anchor="middle">14</text>
</g>
<ellipse cx="257.4" cy="260.0" rx="25.0" ry="21.0" fill="#fff" stroke="#000" stroke-width="4"/>
<text transform="translate(255.5,267.9) scale(1.00,1)" font-size="22.0" font-weight="bold" fill="#000" stroke="#000" stroke-width="2.2" stroke-linejoin="round" text-anchor="middle" letter-spacing="0">16</text>
<ellipse cx="872.9" cy="284.0" rx="24.2" ry="21.0" fill="#fff" stroke="#000" stroke-width="4"/>
<text transform="translate(873.6,291.9) scale(0.93,1)" font-size="22.0" font-weight="bold" fill="#000" stroke="#000" stroke-width="2.2" stroke-linejoin="round" text-anchor="middle" letter-spacing="0">1A</text>
<ellipse cx="925.4" cy="283.2" rx="24.4" ry="21.0" fill="#fff" stroke="#000" stroke-width="4"/>
<text transform="translate(925.2,291.1) scale(0.93,1)" font-size="22.0" font-weight="bold" fill="#000" stroke="#000" stroke-width="2.2" stroke-linejoin="round" text-anchor="middle" letter-spacing="0">1B</text>
<ellipse cx="211.7" cy="781.0" rx="26.4" ry="21.8" fill="#fff" stroke="#000" stroke-width="4"/>
<text transform="translate(214.8,788.9) scale(1.00,1)" font-size="22.0" font-weight="bold" fill="#000" stroke="#000" stroke-width="2.2" stroke-linejoin="round" text-anchor="middle" letter-spacing="0">17</text>
<ellipse cx="147.9" cy="1013.0" rx="25.2" ry="21.3" fill="#fff" stroke="#000" stroke-width="4"/>
<text transform="translate(147.9,1020.9) scale(0.93,1)" font-size="22.0" font-weight="bold" fill="#000" stroke="#000" stroke-width="2.2" stroke-linejoin="round" text-anchor="middle" letter-spacing="0">3A</text>
<ellipse cx="121.1" cy="1124.0" rx="25.3" ry="21.3" fill="#fff" stroke="#000" stroke-width="4"/>
<text transform="translate(121.0,1131.9) scale(0.93,1)" font-size="22.0" font-weight="bold" fill="#000" stroke="#000" stroke-width="2.2" stroke-linejoin="round" text-anchor="middle" letter-spacing="0">4A</text>
<ellipse cx="107.9" cy="1221.0" rx="24.7" ry="21.3" fill="#fff" stroke="#000" stroke-width="4"/>
<text transform="translate(106.2,1228.9) scale(1.00,1)" font-size="22.0" font-weight="bold" fill="#000" stroke="#000" stroke-width="2.2" stroke-linejoin="round" text-anchor="middle" letter-spacing="0">15</text>
<ellipse cx="456.4" cy="1222.4" rx="26.0" ry="20.6" fill="#fff" stroke="#000" stroke-width="4"/>
<text transform="translate(457.3,1227.9) scale(1.00,1)" font-size="15.5" font-weight="bold" fill="#000" stroke="#000" stroke-width="1.6" stroke-linejoin="round" text-anchor="middle" letter-spacing="0">13A</text>
<ellipse cx="669.1" cy="1354.2" rx="25.9" ry="20.7" fill="#fff" stroke="#000" stroke-width="4"/>
<text transform="translate(669.0,1359.7) scale(1.00,1)" font-size="15.5" font-weight="bold" fill="#000" stroke="#000" stroke-width="1.6" stroke-linejoin="round" text-anchor="middle" letter-spacing="0">13B</text>
</g>
</svg>
</body></html>
